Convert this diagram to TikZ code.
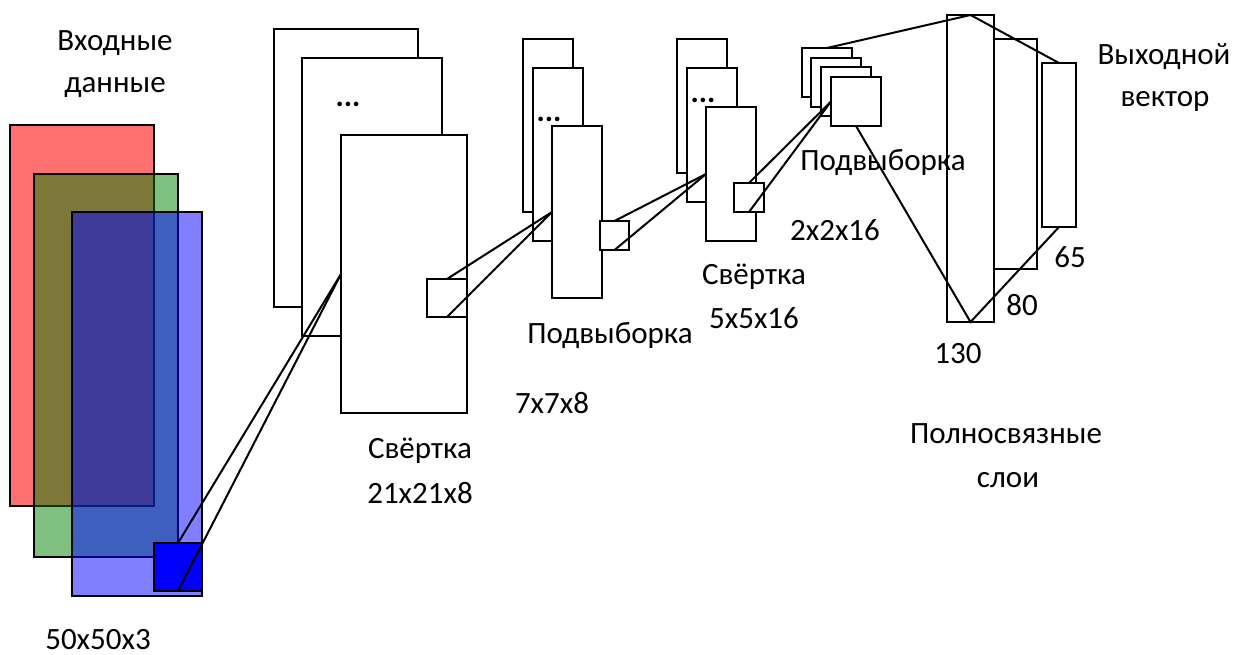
\documentclass[tikz,border=0pt]{standalone}
\usepackage{fontspec}
\setmainfont{Carlito}
\begin{document}
\begin{tikzpicture}[x=1pt,y=-1pt,
  every node/.style={font=\fontsize{31}{37}\selectfont},
  rbox/.style={draw=black, fill=white, line width=2pt, inner sep=0pt, outer sep=0pt, anchor=north west},
  lbl/.style={anchor=base, inner sep=0pt},
  conn/.style={draw=black, line width=2pt}]
\useasboundingbox (0,0) rectangle (1241,655);
% input
\node[rbox, fill=red, fill opacity=0.56, minimum width=144pt, minimum height=381pt] (inr) at (10,125) {};
\node[rbox, fill={rgb,255:red,0;green,128;blue,0}, fill opacity=0.5, minimum width=144pt, minimum height=383pt] (ing) at (34,174) {};
\node[rbox, fill=blue, fill opacity=0.5, minimum width=130pt, minimum height=384pt] (inb) at (72,212) {};
\node[rbox, fill=blue, minimum width=48pt, minimum height=48pt] (insq) at (154,543) {};
% conv 1
\node[rbox, minimum width=144pt, minimum height=278pt] (c1a) at (274,29) {};
\node[rbox, minimum width=140pt, minimum height=278pt] (c1b) at (302,58) {};
\node[lbl] (d1) at (348,107) {\textbf{...}};
\node[rbox, minimum width=126pt, minimum height=278pt] (c1c) at (341,135) {};
\node[rbox, minimum width=40pt, minimum height=38pt] (sq1) at (427,279) {};
% pool 1
\node[rbox, minimum width=50pt, minimum height=173pt] (p1a) at (523,39) {};
\node[rbox, minimum width=50pt, minimum height=173pt] (p1b) at (533,68) {};
\node[lbl] (d2) at (549,122) {\textbf{...}};
\node[rbox, minimum width=50pt, minimum height=172pt] (p1c) at (552,126) {};
\node[rbox, minimum width=29pt, minimum height=29pt] (sq2) at (600,221) {};
% conv 2
\node[rbox, minimum width=50pt, minimum height=134pt] (c2a) at (677,39) {};
\node[rbox, minimum width=50pt, minimum height=134pt] (c2b) at (687,68) {};
\node[lbl] (d3) at (703,103) {\textbf{...}};
\node[rbox, minimum width=50pt, minimum height=134pt] (c2c) at (706,107) {};
\node[rbox, minimum width=30pt, minimum height=29pt] (sq3) at (734,183) {};
% pool 2
\node[rbox, minimum width=50pt, minimum height=49pt] (p2a) at (802,48) {};
\node[rbox, minimum width=50pt, minimum height=49pt] (p2b) at (811,58) {};
\node[rbox, minimum width=50pt, minimum height=49pt] (p2c) at (821,67) {};
\node[rbox, minimum width=50pt, minimum height=49pt] (p2d) at (831,77) {};
% fully connected
\node[rbox, minimum width=47pt, minimum height=307pt] (f130) at (947,15) {};
\node[rbox, minimum width=43pt, minimum height=230pt] (f80) at (994,39) {};
\node[rbox, minimum width=34pt, minimum height=164pt] (f65) at (1042,63) {};
% connectors
\draw[conn] (insq.north) -- (c1c.west);
\draw[conn] (insq.south) -- (c1c.west);
\draw[conn] (sq1.north) -- (p1c.west);
\draw[conn] (sq1.south) -- (p1c.west);
\draw[conn] (sq2.north) -- (c2c.west);
\draw[conn] (sq2.south) -- (c2c.west);
\draw[conn] (sq3.north) -- (p2d.west);
\draw[conn] (sq3.south) -- (p2d.west);
\draw[conn] (p2a.north) -- (f130.north) -- (f65.north);
\draw[conn] (p2d.south) -- (f130.south) -- (f65.south);
% labels
\node[lbl] (t1) at (115,51) {Входные};
\node[lbl] (t2) at (115,93) {данные};
\node[lbl] (t3) at (98,649) {50x50x3};
\node[lbl] (t4) at (420,458) {Свёртка};
\node[lbl] (t5) at (420,503) {21x21x8};
\node[lbl] (t6) at (610,343) {Подвыборка};
\node[lbl] (t7) at (552,413) {7x7x8};
\node[lbl] (t8) at (754,284) {Свёртка};
\node[lbl] (t9) at (754,328) {5x5x16};
\node[lbl] (t10) at (883,171) {Подвыборка};
\node[lbl] (t11) at (835,240) {2x2x16};
\node[lbl] (t12) at (1070,267) {65};
\node[lbl] (t13) at (1022,315) {80};
\node[lbl] (t14) at (958,363) {130};
\node[lbl] (t15) at (1006,443) {Полносвязные};
\node[lbl] (t16) at (1008,487) {слои};
\node[lbl] (t17) at (1164,65) {Выходной};
\node[lbl] (t18) at (1165,107) {вектор};
\end{tikzpicture}
\end{document}
